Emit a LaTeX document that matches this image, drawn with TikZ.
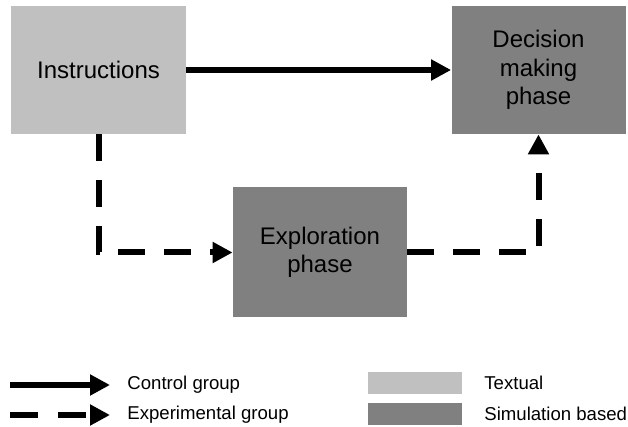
\documentclass[tikz,border=0pt]{standalone}
\usepackage{fontspec}
\setmainfont{Liberation Sans}
\usetikzlibrary{arrows.meta}
\definecolor{textualgray}{HTML}{C0C0C0}
\definecolor{simgray}{HTML}{808080}

\begin{document}
\begin{tikzpicture}[x=0.5pt, y=-0.5pt,
  box/.style={shape=rectangle, inner sep=0pt, align=center, font=\fontsize{12pt}{14.2pt}\selectfont},
  textbox/.style={box, fill=textualgray, minimum width=87.5pt, minimum height=64pt},
  simbox/.style={box, fill=simgray, minimum width=87pt, minimum height=64pt},
  ctrlline/.style={line width=3pt, -{Triangle[length=10pt, width=10pt]}},
  expline/.style={ctrlline, dash pattern=on 13.5pt off 9.5pt},
  legendtext/.style={anchor=west, inner sep=0pt, font=\fontsize{9.3pt}{11pt}\selectfont}]
\useasboundingbox (0,0) rectangle (628,427);

\node [textbox] (instr) at (98.5,70) {Instructions};
\node [simbox, right of=instr, node distance=220pt] (decision) {Decision\\making\\phase};
\node [simbox, minimum height=65pt] (explor) at (320,252.5) {Exploration\\phase};

\draw [ctrlline] (instr) -- (decision);
\draw [expline] (instr.south) |- (explor.west);
\draw [expline] (explor.east) -| (decision.south);

% legend
\coordinate (ctrlA) at (10,385);
\coordinate (ctrlB) at (110,385);
\coordinate (expA) at (10,415);
\coordinate (expB) at (110,415);
\draw [ctrlline] (ctrlA) -- (ctrlB);
\draw [expline, dash pattern=on 14pt off 10pt] (expA) -- (expB);
\node [legendtext] (ctrltext) at (127,385) {Control group};
\node [legendtext] (exptext) at (127,415) {Experimental group};

\node [shape=rectangle, fill=textualgray, minimum width=47pt, minimum height=11pt, inner sep=0pt] (textkey) at (415,383) {};
\node [shape=rectangle, fill=simgray, minimum width=47pt, minimum height=11pt, inner sep=0pt] (simkey) at (415,414) {};
\node [legendtext] (textlabel) at (484,383) {Textual};
\node [legendtext] (simlabel) at (484,414) {Simulation based};
\end{tikzpicture}
\end{document}
